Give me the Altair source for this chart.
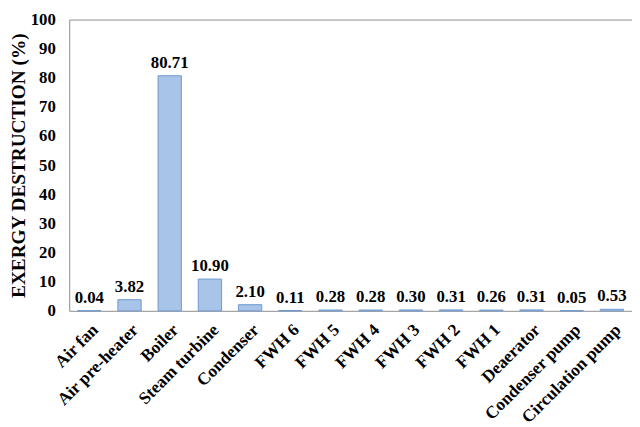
import altair as alt
import pandas as pd

components = ["Air fan", "Air pre-heater", "Boiler", "Steam turbine", "Condenser",
              "FWH 6", "FWH 5", "FWH 4", "FWH 3", "FWH 2", "FWH 1",
              "Deaerator", "Condenser pump", "Circulation pump"]
values = [0.04, 3.82, 80.71, 10.90, 2.10, 0.11, 0.28, 0.28, 0.30, 0.31, 0.26, 0.31, 0.05, 0.53]
y_ticks = list(range(0, 101, 10))

df = pd.DataFrame({"component": components, "value": values,
                   "label": [f"{v:.2f}" for v in values]})

FONT = "Liberation Serif"

x = alt.X("component:N", sort=components, title=None,
          scale=alt.Scale(paddingInner=0.42, paddingOuter=0.21),
          axis=alt.Axis(labelAngle=-45, labelFont=FONT, labelFontSize=17.5,
                        labelFontWeight="bold", labelColor="black", ticks=False,
                        domain=False, labelPadding=10, labelLimit=300))
y = alt.Y("value:Q", title="EXERGY DESTRUCTION (%)",
          scale=alt.Scale(domain=[0, 100], nice=False),
          axis=alt.Axis(values=y_ticks, grid=False, ticks=False, domain=False,
                        labelFont=FONT, labelFontSize=17, labelFontWeight="bold",
                        labelColor="black", labelPadding=14,
                        titleFont=FONT, titleFontSize=19.5, titleFontWeight="bold",
                        titleColor="black", titlePadding=2))

bars = alt.Chart(df).mark_bar(color="#A8C4E8", stroke="#6F99D0", strokeWidth=1).encode(x=x, y=y)
text = alt.Chart(df).mark_text(font=FONT, fontSize=17, fontWeight="bold", baseline="bottom",
                               dy=-4, color="black").encode(x=x, y=y, text="label:N")

chart = (bars + text).properties(
    width=570, height=295,
    padding={"left": 0, "top": 0, "right": 0, "bottom": 0},
).configure_view(stroke="#8C8C8C", strokeWidth=1)

chart.save("out.html", embed_options={"renderer": "svg", "actions": False})
